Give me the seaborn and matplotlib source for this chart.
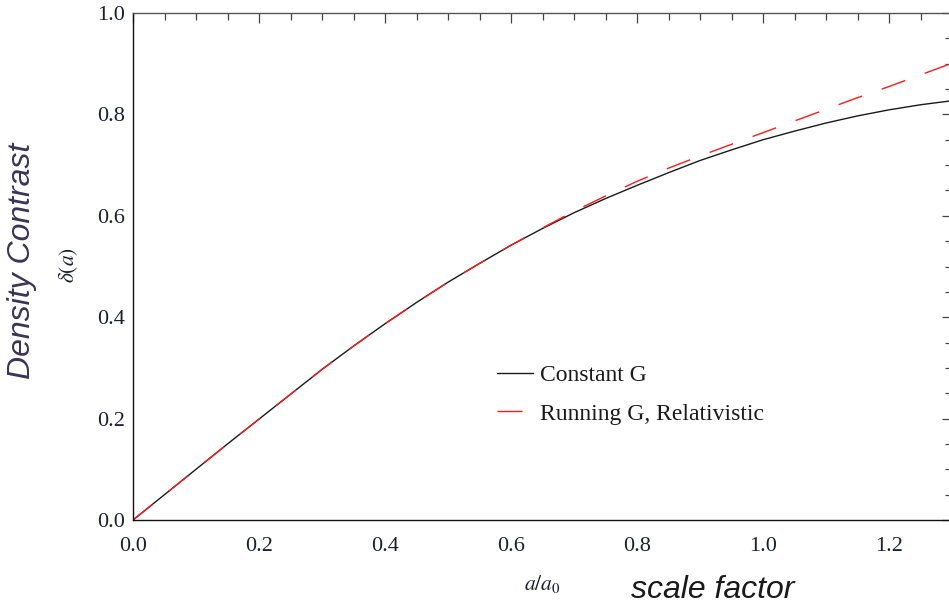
import numpy as np
import pandas as pd
import matplotlib
matplotlib.use("Agg")
import matplotlib.pyplot as plt
from matplotlib.ticker import MultipleLocator
import seaborn as sns

# ---- data ----
scale_factor = [0.00, 0.05, 0.10, 0.15, 0.20, 0.25, 0.30, 0.35, 0.40, 0.45,
                0.50, 0.55, 0.60, 0.65, 0.70, 0.75, 0.80, 0.85, 0.90, 0.95,
                1.00, 1.05, 1.10, 1.15, 1.20, 1.25, 1.30]
constant_G = [0.000, 0.050, 0.100, 0.150, 0.199, 0.248, 0.297, 0.343, 0.387, 0.429,
              0.469, 0.506, 0.542, 0.575, 0.606, 0.634, 0.660, 0.685, 0.709, 0.730,
              0.750, 0.767, 0.783, 0.797, 0.809, 0.819, 0.827]
running_G = [0.000, 0.050, 0.100, 0.150, 0.199, 0.248, 0.297, 0.343, 0.387, 0.429,
             0.469, 0.506, 0.542, 0.576, 0.609, 0.639, 0.668, 0.694, 0.718, 0.741,
             0.764, 0.787, 0.810, 0.833, 0.855, 0.878, 0.901]
series_labels = ["Constant G", "Running G, Relativistic"]
x_ticks = [0.0, 0.2, 0.4, 0.6, 0.8, 1.0, 1.2]
y_ticks = [0.0, 0.2, 0.4, 0.6, 0.8, 1.0]

df = pd.DataFrame({"a": scale_factor, "const": constant_G, "run": running_G})

sns.set_theme(style="white")
plt.rcParams["font.family"] = ["Liberation Serif", "DejaVu Serif"]
plt.rcParams["mathtext.fontset"] = "stix"

W, H = 949, 607
fig = plt.figure(figsize=(W / 100, H / 100), dpi=100)
ax = fig.add_axes([133 / W, (H - 520) / H, 819 / W, 507 / H])

sns.lineplot(data=df, x="a", y="const", ax=ax, color="#1a1a1a", lw=1.0,
             label=series_labels[0])
sns.lineplot(data=df, x="a", y="run", ax=ax, color="#ff1a1a", lw=1.0,
             linestyle=(0, (18, 15)), label=series_labels[1])

ax.set_xlim(0, 1.3)
ax.set_ylim(0, 1.0)
ax.set_xticks(x_ticks)
ax.set_yticks(y_ticks)
ax.set_xticklabels([f"{v:.1f}" for v in x_ticks])
ax.set_yticklabels([f"{v:.1f}" for v in y_ticks])
ax.xaxis.set_minor_locator(MultipleLocator(0.05))
ax.yaxis.set_minor_locator(MultipleLocator(0.05))
tick_color = "#444444"
label_color = "#1c1f33"
ax.tick_params(which="both", direction="in", top=True, right=True,
               color=tick_color, width=0.9, labelcolor=label_color,
               labelsize=16)
ax.tick_params(which="major", length=7.2)
ax.tick_params(which="minor", length=5)
ax.tick_params(axis="x", which="major", pad=12)
ax.tick_params(axis="y", which="major", pad=6)
for s in ax.spines.values():
    s.set_color("#111111")
    s.set_linewidth(1.0)
ax.spines["top"].set_color("#555555")

ax.set_xlabel("")
ax.set_ylabel("")

# Mathematica-style axis labels
fig.text(542 / W, 1 - 584 / H, r"$a/a_0$", fontsize=15.5, ha="center",
         va="center", color="#1c1f33")
fig.text(69 / W, 1 - 265 / H, r"$\delta(a)$", fontsize=15.5, ha="center",
         va="center", rotation=90, color="#1c1f33")

# overlaid annotation labels
fig.text(22 / W, 1 - 261 / H, "Density Contrast", fontsize=23, style="italic",
         family=["Liberation Sans", "DejaVu Sans"], rotation=90,
         ha="center", va="center", color="#3b3358")
fig.text(713 / W, 1 - 590 / H, "scale factor", fontsize=23, style="italic",
         family=["Liberation Sans", "DejaVu Sans"],
         ha="center", va="center", color="#1a1a1a")

leg = ax.legend(loc="upper left", bbox_to_anchor=(488 / W, 1 - 355 / H),
                bbox_transform=fig.transFigure, frameon=False,
                borderaxespad=0, handlelength=1.5, handletextpad=0.3,
                labelspacing=0.73, fontsize=17)
for t in leg.get_texts():
    t.set_color("#1a1a1a")

fig.savefig("out.png", dpi=100)
